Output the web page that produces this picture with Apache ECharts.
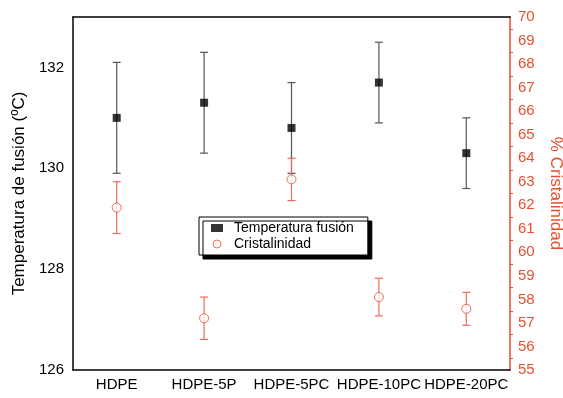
<!DOCTYPE html>
<html>
<head>
<meta charset="utf-8">
<script src="https://cdn.jsdelivr.net/npm/echarts@6/dist/echarts.min.js"></script>
<style>
  html, body { margin: 0; padding: 0; background: #fff; }
  #chart { width: 563px; height: 398px; }
</style>
</head>
<body>
<div id="chart"></div>
<script>
var categories = ['HDPE', 'HDPE-5P', 'HDPE-5PC', 'HDPE-10PC', 'HDPE-20PC'];
var tempFusion = [131.0, 131.3, 130.8, 131.7, 130.3];
var tempErr = [1.1, 1.0, 0.9, 0.8, 0.7];
var cristalinidad = [61.9, 57.2, 63.1, 58.1, 57.6];
var cristErr = [1.1, 0.9, 0.9, 0.8, 0.7];

var RED = '#e4512f';
var FONT = 'Liberation Sans';

function errData(vals, errs) {
    return vals.map(function (v, i) {
        return [i, v, v - errs[i], v + errs[i]];
    });
}

// barra de error con tapas
function errRender(color) {
    return function (params, api) {
        var lo = api.coord([api.value(0), api.value(2)]);
        var hi = api.coord([api.value(0), api.value(3)]);
        var w = 4;
        var st = { stroke: color, lineWidth: 1.2 };
        return {
            type: 'group',
            children: [
                { type: 'line', shape: { x1: lo[0], y1: lo[1], x2: hi[0], y2: hi[1] }, style: st },
                { type: 'line', shape: { x1: lo[0] - w, y1: lo[1], x2: lo[0] + w, y2: lo[1] }, style: st },
                { type: 'line', shape: { x1: hi[0] - w, y1: hi[1], x2: hi[0] + w, y2: hi[1] }, style: st }
            ]
        };
    };
}

var chart = echarts.init(document.getElementById('chart'));
var option = {
    animation: false,
    textStyle: { fontFamily: FONT },
    grid: { left: 73, right: 53, top: 17, bottom: 28, outerBoundsMode: 'none' },
    legend: {
        orient: 'vertical',
        left: 199,
        top: 217,
        padding: [4, 14, 4, 12],
        itemGap: 2,
        itemWidth: 12,
        itemHeight: 8,
        backgroundColor: '#fff',
        borderColor: '#000',
        borderWidth: 1,
        shadowColor: '#000',
        shadowBlur: 0,
        shadowOffsetX: 4,
        shadowOffsetY: 4,
        textStyle: { fontSize: 14, color: '#000', fontFamily: FONT, padding: [0, 0, 0, 6] },
        data: [
            { name: 'Temperatura fusión', icon: 'rect', itemStyle: { color: '#000' } },
            { name: 'Cristalinidad', icon: 'circle', itemStyle: { color: '#fff', borderColor: RED, borderWidth: 1 } }
        ]
    },
    xAxis: [
        {
            type: 'category',
            data: categories,
            position: 'bottom',
            axisLine: { lineStyle: { color: '#000', width: 1.5 } },
            axisTick: { alignWithLabel: true, length: 6, lineStyle: { color: '#000', width: 1.5 } },
            axisLabel: { color: '#000', fontSize: 15, margin: 7, interval: 0 }
        },
        {
            type: 'category',
            data: categories,
            position: 'top',
            axisLine: { lineStyle: { color: '#000', width: 1.5 } },
            axisTick: { alignWithLabel: true, inside: true, length: 6, lineStyle: { color: '#000', width: 1.5 } },
            axisLabel: { show: false }
        }
    ],
    yAxis: [
        {
            type: 'value',
            min: 126,
            max: 133,
            interval: 1,
            name: 'Temperatura de fusión (ºC)',
            nameLocation: 'middle',
            nameGap: 45,
            nameTextStyle: { fontSize: 17, color: '#000' },
            axisLine: { show: true, lineStyle: { color: '#000', width: 1.5 } },
            axisTick: { length: 5, lineStyle: { color: '#000', width: 1.5 } },
            axisLabel: {
                color: '#000', fontSize: 15, margin: 9,
                formatter: function (v) { return (v % 2 === 0) ? String(v) : ''; }
            },
            splitLine: { show: false }
        },
        {
            type: 'value',
            min: 55,
            max: 70,
            interval: 1,
            position: 'right',
            name: '% Cristalinidad',
            nameLocation: 'middle',
            nameRotate: -90,
            nameGap: 37,
            nameTextStyle: { fontSize: 17, color: RED },
            axisLine: { show: true, lineStyle: { color: RED, width: 1.5 } },
            axisTick: { length: 5, lineStyle: { color: RED, width: 1.2 } },
            minorTick: { show: true, splitNumber: 2, length: 3, lineStyle: { color: RED, width: 1 } },
            axisLabel: { color: RED, fontSize: 15, margin: 8 },
            splitLine: { show: false }
        }
    ],
    series: [
        {
            name: 'errTemp',
            type: 'custom',
            yAxisIndex: 0,
            renderItem: errRender('#555'),
            data: errData(tempFusion, tempErr),
            z: 1
        },
        {
            name: 'errCrist',
            type: 'custom',
            yAxisIndex: 1,
            renderItem: errRender('#ee6a5c'),
            data: errData(cristalinidad, cristErr),
            z: 1
        },
        {
            name: 'Temperatura fusión',
            type: 'scatter',
            yAxisIndex: 0,
            symbol: 'rect',
            symbolSize: 8,
            itemStyle: { color: '#000' },
            data: tempFusion,
            z: 3
        },
        {
            name: 'Cristalinidad',
            type: 'scatter',
            yAxisIndex: 1,
            symbol: 'circle',
            symbolSize: 9,
            itemStyle: { color: '#fff', borderColor: RED, borderWidth: 1 },
            data: cristalinidad,
            z: 3
        }
    ]
};
chart.setOption(option);
</script>
</body>
</html>
